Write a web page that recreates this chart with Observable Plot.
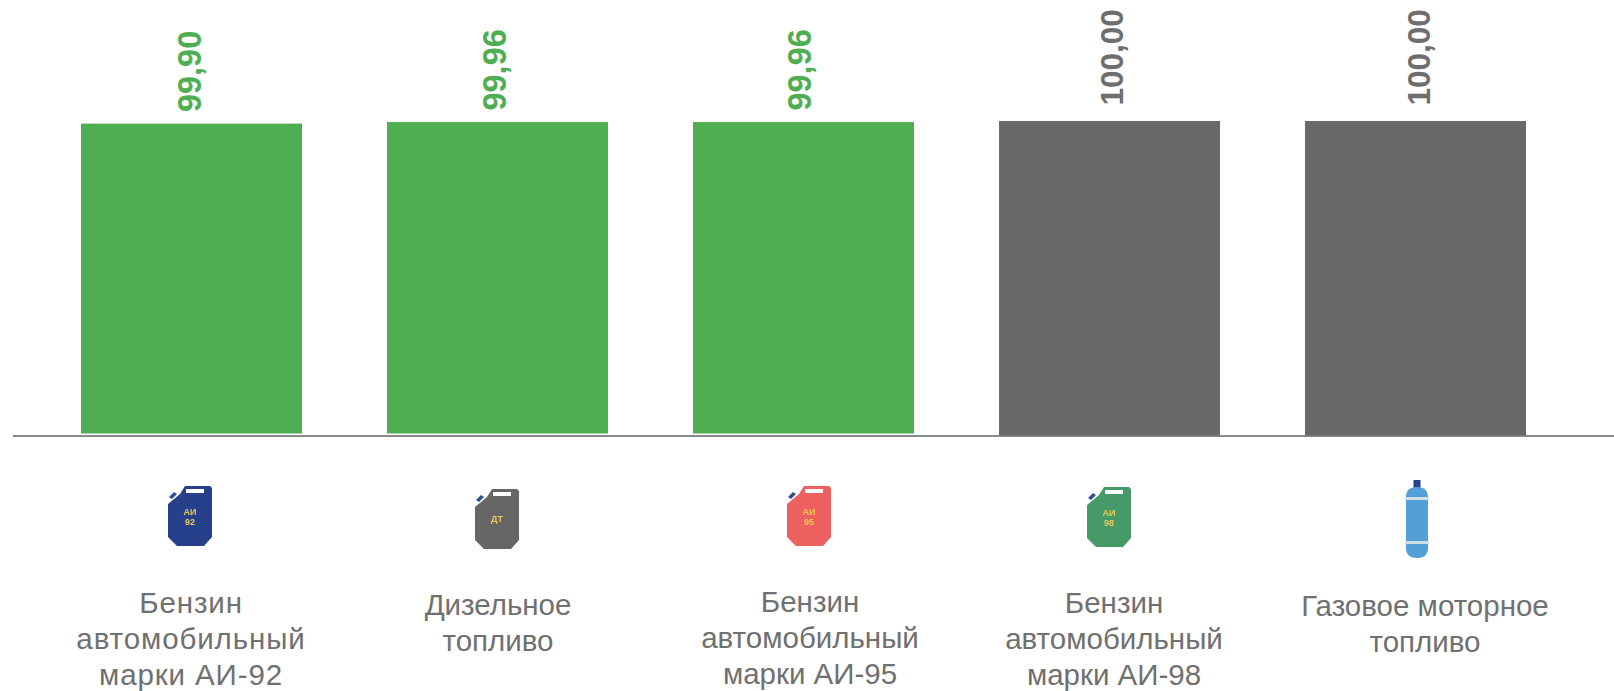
<!DOCTYPE html>
<html>
<head>
<meta charset="utf-8">
<style>
html,body{margin:0;padding:0;background:#fff}
svg{display:block}
</style>
<script src="https://cdn.jsdelivr.net/npm/d3@7"></script>
<script src="https://cdn.jsdelivr.net/npm/@observablehq/plot@0.6"></script>
</head>
<body>
<div id="chart"></div>
<script>
const categories = ["АИ-92", "ДТ", "АИ-95", "АИ-98", "Газ"];
const values = [99.90, 99.96, 99.96, 100.00, 100.00];
const valueLabels = ["99,90", "99,96", "99,96", "100,00", "100,00"];
const names = [
  "Бензин\nавтомобильный\nмарки АИ-92",
  "Дизельное\nтопливо",
  "Бензин\nавтомобильный\nмарки АИ-95",
  "Бензин\nавтомобильный\nмарки АИ-98",
  "Газовое моторное\nтопливо"
];
const iconBodies = ["#27408b", "#666666", "#ee6060", "#459a68", "#529fd8"];
const iconTexts = [["АИ", "92"], ["ДТ"], ["АИ", "95"], ["АИ", "98"], []];

// hand placement of the free-floating items, separate from the data
const valueDx = [-1, -2, -3, 3, 4];
const iconDx = [-2, -1, 5, -1, 1];
const iconDy = [80, 83, 80, 81, 83];
const nameDx = [-1, 0, 6, 4, 9];
const nameDy = [151, 153, 150, 151, 154];
const nameSpacing = [0.9, 0, 0, 0, 0];

const GREEN = "#4fae52", GRAY = "#696969", VALUE_GRAY = "#6e6e6e", TEXT = "#707070";
const rows = categories.map((c, i) => ({c, v: values[i], label: valueLabels[i], name: names[i], over: values[i] >= 100}));

const soft = `<filter id="s"><feGaussianBlur stdDeviation="0.55"/></filter>`;
function canister(body, texts) {
  const t = texts.map((s, i) => `<text x="23" y="${texts.length > 1 ? 31 + i * 10 : 35}" font-family="Liberation Sans" font-weight="bold" font-size="9" fill="#eccb55" text-anchor="middle">${s}</text>`).join("");
  return `<svg xmlns="http://www.w3.org/2000/svg" width="46" height="64" viewBox="0 0 46 64">${soft}<g filter="url(#s)"><path d="M2 13 L7 8 L10 10 L5 15Z" fill="#33508f"/><path d="M1 20 L13 10 L18 2 L43 2 L45 4 L45 53 L37 62 L10 62 L1 53Z" fill="${body}"/><rect x="19" y="5" width="18" height="4" fill="#fff"/>${t}</g></svg>`;
}
function cylinder(body) {
  return `<svg xmlns="http://www.w3.org/2000/svg" width="24" height="80" viewBox="0 0 24 80">${soft}<g filter="url(#s)"><rect x="8.5" y="1" width="7" height="9" fill="#27408b"/><path d="M1 18 Q1 8 12 8 Q23 8 23 18 L23 69 Q23 79 12 79 Q1 79 1 69Z" fill="${body}"/><rect x="0" y="18" width="24" height="3" fill="#cfdfe8"/><rect x="0" y="62" width="24" height="3" fill="#cfdfe8"/></g></svg>`;
}
const iconSrc = i => "data:image/svg+xml;charset=utf-8," + encodeURIComponent(
  categories[i] === "Газ" ? cylinder(iconBodies[i]) : canister(iconBodies[i], iconTexts[i]));

const base = 88;
const chart = Plot.plot({
  width: 1614,
  height: 691,
  margin: 0,
  x: {domain: categories, range: [-4.5, 1611.5], padding: 0.278, align: 0.5, axis: null},
  y: {domain: [base, 100], range: [435.5, 121], axis: null},
  style: {background: "#fff", fontFamily: "'Liberation Sans', Arial, sans-serif"},
  marks: [
    Plot.barY(rows.filter(d => !d.over), {x: "c", y1: base, y2: "v", fill: GREEN, insetBottom: 2}),
    Plot.ruleY([base], {insetLeft: 13, stroke: "#8a8a8a", strokeWidth: 2}),
    Plot.barY(rows.filter(d => d.over), {x: "c", y1: base, y2: "v", fill: GRAY}),
    ...rows.map((d, i) => Plot.text([d], {x: "c", y: "v", text: "label", rotate: -90, textAnchor: "start",
      dx: valueDx[i], dy: d.over ? -16 : -12,
      fill: d.over ? VALUE_GRAY : GREEN, fontWeight: "bold", fontSize: d.over ? 31.5 : 32.5})),
    ...rows.map((d, i) => Plot.image([d], {x: "c", y: base, src: () => iconSrc(i),
      width: d.c === "Газ" ? 24 : 46, height: d.c === "Газ" ? 80 : 64, dx: iconDx[i], dy: iconDy[i]})),
    ...rows.map((d, i) => Plot.text([d], {x: "c", y: base, text: "name", lineAnchor: "top",
      dx: nameDx[i], dy: nameDy[i], lineHeight: 1.22,
      fill: TEXT, fontSize: 29.5, textAnchor: "middle"}))
  ]
});
chart.querySelectorAll("text").forEach(t => {
  const i = names.findIndex(n => n.replace(/\n/g, "") === t.textContent);
  if (i >= 0 && nameSpacing[i]) t.style.letterSpacing = nameSpacing[i] + "px";
});
document.getElementById("chart").append(chart);
</script>
</body>
</html>
